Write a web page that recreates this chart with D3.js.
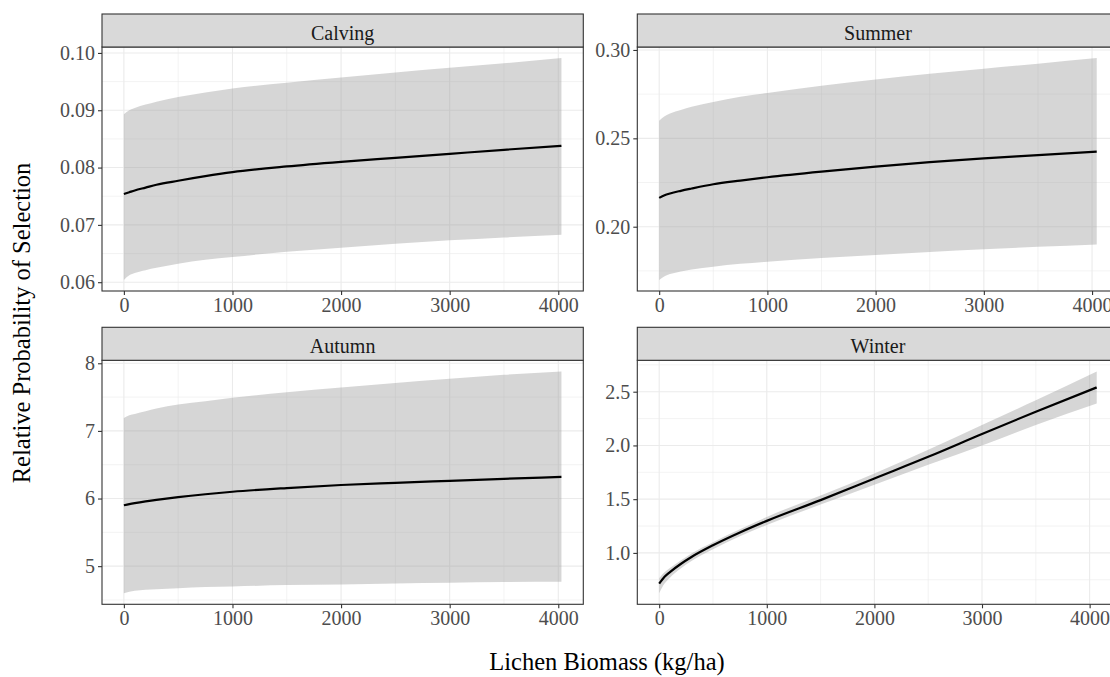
<!DOCTYPE html>
<html>
<head>
<meta charset="utf-8">
<script src="https://cdn.jsdelivr.net/npm/d3@7"></script>
<style>
  body { margin: 0; background: #fff; }
  svg { display: block; }
</style>
</head>
<body>
<svg id="chart"></svg>
<script>
width = 1110;
height = 677;

seasons = ["Calving", "Summer", "Autumn", "Winter"];

// lichen biomass where predictions were read (last point differs per season)
biomass = [0, 50, 100, 200, 300, 500, 750, 1000, 1500, 2000, 2500, 3000, 3500];
biomassMax = [4029, 4043, 4029, 4066];

calvingFit   = [0.0754, 0.0757, 0.0760, 0.0765, 0.0770, 0.0777, 0.0785, 0.0792, 0.0802, 0.0810, 0.0817, 0.0824, 0.0831, 0.0838];
calvingLower = [0.0604, 0.0612, 0.0616, 0.0621, 0.0625, 0.0632, 0.0639, 0.0644, 0.0653, 0.0660, 0.0667, 0.0673, 0.0678, 0.0683];
calvingUpper = [0.0893, 0.0900, 0.0904, 0.0910, 0.0915, 0.0923, 0.0931, 0.0938, 0.0948, 0.0957, 0.0966, 0.0974, 0.0982, 0.0991];

summerFit   = [0.2163, 0.2178, 0.2188, 0.2203, 0.2216, 0.2240, 0.2261, 0.2280, 0.2312, 0.2340, 0.2365, 0.2387, 0.2405, 0.2425];
summerLower = [0.1699, 0.1720, 0.1732, 0.1747, 0.1758, 0.1774, 0.1790, 0.1802, 0.1823, 0.1840, 0.1857, 0.1872, 0.1886, 0.1900];
summerUpper = [0.2600, 0.2625, 0.2640, 0.2660, 0.2678, 0.2705, 0.2735, 0.2757, 0.2797, 0.2833, 0.2865, 0.2894, 0.2922, 0.2954];

autumnFit   = [5.90, 5.917, 5.932, 5.958, 5.98, 6.02, 6.063, 6.10, 6.155, 6.20, 6.232, 6.262, 6.291, 6.32];
autumnLower = [4.60, 4.62, 4.635, 4.65, 4.66, 4.675, 4.69, 4.70, 4.72, 4.73, 4.745, 4.755, 4.765, 4.77];
autumnUpper = [7.19, 7.23, 7.25, 7.29, 7.33, 7.39, 7.44, 7.49, 7.57, 7.64, 7.71, 7.77, 7.83, 7.88];

winterFit   = [0.714, 0.778, 0.822, 0.897, 0.962, 1.071, 1.190, 1.298, 1.491, 1.693, 1.894, 2.106, 2.314, 2.540];
winterLower = [0.625, 0.715, 0.770, 0.855, 0.925, 1.035, 1.155, 1.260, 1.450, 1.635, 1.820, 2.000, 2.190, 2.390];
winterUpper = [0.765, 0.820, 0.860, 0.930, 0.995, 1.100, 1.220, 1.335, 1.535, 1.740, 1.960, 2.190, 2.420, 2.689];

xTicks = [0, 1000, 2000, 3000, 4000];
yTicks = [
  [0.06, 0.07, 0.08, 0.09, 0.10],
  [0.20, 0.25, 0.30],
  [5, 6, 7, 8],
  [1.0, 1.5, 2.0, 2.5]
];
yFormats = [".2f", ".2f", "d", ".1f"];

fits = [calvingFit, summerFit, autumnFit, winterFit];
lowers = [calvingLower, summerLower, autumnLower, winterLower];
uppers = [calvingUpper, summerUpper, autumnUpper, winterUpper];

// layout (facet grid 2 x 2, right column runs off the canvas like the original)
colLeft = [102, 637.3];
rowTop = [14, 327.3];
stripH = 33;
panelW = 481.3;
panelH = 244;

font = "'Liberation Serif', 'Times New Roman', serif";

function expand(lo, hi) {
  const r = hi - lo;
  return [lo - 0.05 * r, hi + 0.05 * r];
}

function minorBreaks(ticks, domain) {
  const step = ticks[1] - ticks[0];
  return d3.range(ticks[0] - step / 2, ticks[ticks.length - 1] + step, step)
    .filter(v => v > domain[0] && v < domain[1]);
}

const svg = d3.select("#chart")
    .attr("width", width)
    .attr("height", height)
    .style("font-family", font);

svg.append("rect").attr("width", width).attr("height", height).attr("fill", "#fff");

function drawPanel(i) {
  const left = colLeft[i % 2];
  const stripTop = rowTop[Math.floor(i / 2)];
  const top = stripTop + stripH;

  const xs = biomass.concat([biomassMax[i]]);
  const rows = xs.map((x, k) => ({x: x, fit: fits[i][k], lo: lowers[i][k], hi: uppers[i][k]}));

  const x = d3.scaleLinear()
      .domain(expand(0, biomassMax[i]))
      .range([0, panelW]);
  const yDom = expand(d3.min(lowers[i]), d3.max(uppers[i]));
  const y = d3.scaleLinear()
      .domain(yDom)
      .range([panelH, 0]);

  const g = svg.append("g").attr("transform", `translate(${left},${top})`);

  // grid
  const grid = g.append("g").attr("stroke", "#EBEBEB");
  grid.selectAll(".xminor")
    .data(minorBreaks(xTicks, x.domain()))
    .join("line")
      .attr("x1", d => x(d)).attr("x2", d => x(d))
      .attr("y1", 0).attr("y2", panelH)
      .attr("stroke-width", 0.6);
  grid.selectAll(".yminor")
    .data(minorBreaks(yTicks[i], yDom))
    .join("line")
      .attr("y1", d => y(d)).attr("y2", d => y(d))
      .attr("x1", 0).attr("x2", panelW)
      .attr("stroke-width", 0.6);
  grid.selectAll(".xmajor")
    .data(xTicks)
    .join("line")
      .attr("x1", d => x(d)).attr("x2", d => x(d))
      .attr("y1", 0).attr("y2", panelH)
      .attr("stroke-width", 1.1);
  grid.selectAll(".ymajor")
    .data(yTicks[i])
    .join("line")
      .attr("y1", d => y(d)).attr("y2", d => y(d))
      .attr("x1", 0).attr("x2", panelW)
      .attr("stroke-width", 1.1);

  // confidence ribbon
  g.append("path")
      .datum(rows)
      .attr("fill", "#999999")
      .attr("fill-opacity", 0.4)
      .attr("d", d3.area()
        .x(d => x(d.x))
        .y0(d => y(d.lo))
        .y1(d => y(d.hi))
        .curve(d3.curveMonotoneX));

  // fitted line
  g.append("path")
      .datum(rows)
      .attr("fill", "none")
      .attr("stroke", "#000")
      .attr("stroke-width", 2.2)
      .attr("d", d3.line()
        .x(d => x(d.x))
        .y(d => y(d.fit))
        .curve(d3.curveMonotoneX));

  // panel border
  g.append("rect")
      .attr("width", panelW).attr("height", panelH)
      .attr("fill", "none")
      .attr("stroke", "#333333")
      .attr("stroke-width", 1.1);

  // strip
  g.append("rect")
      .attr("y", -stripH)
      .attr("width", panelW).attr("height", stripH)
      .attr("fill", "#D9D9D9")
      .attr("stroke", "#333333")
      .attr("stroke-width", 1.1);
  g.append("text")
      .attr("x", panelW / 2)
      .attr("y", -stripH + 26)
      .attr("text-anchor", "middle")
      .attr("fill", "#1A1A1A")
      .style("font-size", "20px")
      .text(seasons[i]);

  // axes
  const yAxis = g.append("g")
      .call(d3.axisLeft(y).tickValues(yTicks[i]).tickFormat(d3.format(yFormats[i])).tickSize(4).tickPadding(3));
  const xAxis = g.append("g")
      .attr("transform", `translate(0,${panelH})`)
      .call(d3.axisBottom(x).tickValues(xTicks).tickFormat(d3.format("d")).tickSize(4).tickPadding(3));

  [xAxis, yAxis].forEach(a => {
    a.select(".domain").remove();
    a.selectAll(".tick line").attr("stroke", "#333333").attr("stroke-width", 1.1);
    a.selectAll(".tick text")
      .attr("fill", "#4D4D4D")
      .style("font-family", font)
      .style("font-size", "20px");
  });
}

seasons.forEach((s, i) => drawPanel(i));

// axis titles
svg.append("text")
    .attr("transform", "translate(30,323) rotate(-90)")
    .attr("text-anchor", "middle")
    .attr("fill", "#000")
    .style("font-size", "24.5px")
    .text("Relative Probability of Selection");

svg.append("text")
    .attr("x", 607)
    .attr("y", 670)
    .attr("text-anchor", "middle")
    .attr("fill", "#000")
    .style("font-size", "24.5px")
    .text("Lichen Biomass (kg/ha)");
</script>
</body>
</html>
